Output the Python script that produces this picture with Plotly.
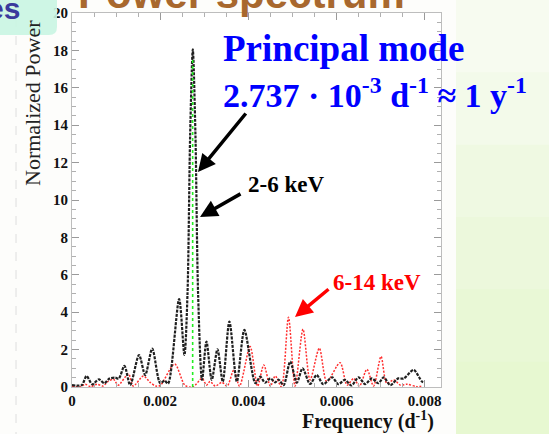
import numpy as np
import plotly.graph_objects as go

# Frequencies in units of 1e-3 d^-1, normalized power values
freq_soft_milli = [0.00, 0.22, 0.33, 0.46, 0.61, 0.73, 0.85, 0.98, 1.06, 1.19, 1.32, 1.52,
                   1.66, 1.82, 2.00, 2.10, 2.18, 2.43, 2.55, 2.62, 2.68, 2.74, 2.80, 2.86,
                   2.95, 3.05, 3.17, 3.30, 3.42, 3.57, 3.74, 3.91, 4.16, 4.27, 4.38, 4.50,
                   4.61, 4.68, 4.80, 4.95, 5.10, 5.23, 5.40, 5.55, 5.70, 5.90, 6.04, 6.19,
                   6.34, 6.50, 6.65, 6.80, 6.95, 7.07, 7.22, 7.40, 7.52, 7.75, 7.94, 8.00]
power_soft = [0.10, 0.10, 0.59, 0.14, 0.41, 0.20, 0.45, 0.50, 0.45, 1.13, 0.10, 1.71,
              0.64, 2.05, 0.20, 0.34, 0.18, 4.70, 1.71, 5.00, 13.5, 18.05, 13.5, 5.00,
              0.38, 2.43, 0.38, 2.02, 0.29, 3.50, 0.29, 3.05, 0.20, 0.55, 0.23, 0.46,
              0.25, 0.40, 0.10, 1.36, 0.23, 1.00, 0.16, 0.64, 0.15, 0.52, 0.15, 0.38,
              0.08, 0.52, 0.15, 0.46, 0.20, 0.52, 0.10, 0.46, 0.45, 0.91, 0.29, 0.25]

freq_hard_milli = [0.00, 0.20, 0.30, 0.42, 0.57, 0.70, 0.82, 0.94, 1.05, 1.28, 1.39, 1.62,
                   1.77, 1.90, 2.00, 2.33, 2.56, 2.74, 2.95, 3.05, 3.13, 3.25, 3.40, 3.52,
                   3.67, 3.80, 4.04, 4.21, 4.35, 4.50, 4.61, 4.75, 4.91, 5.06, 5.24, 5.40,
                   5.61, 5.78, 6.08, 6.24, 6.39, 6.52, 6.69, 6.84, 7.01, 7.14, 7.30, 7.45,
                   7.60, 7.82, 7.96]
power_hard = [0.02, 0.02, 0.15, 0.02, 0.15, 0.05, 0.30, 0.41, 0.10, 0.70, 0.05, 0.59,
              0.25, 0.05, 0.08, 1.23, 0.10, 0.00, 0.46, 0.10, 0.30, 0.05, 0.25, 0.05,
              0.90, 0.05, 2.16, 0.05, 1.18, 0.05, 0.59, 0.02, 3.73, 0.05, 3.09, 0.38,
              2.07, 0.29, 1.30, 0.10, 0.46, 0.05, 0.95, 0.05, 1.63, 0.20, 0.38, 0.10,
              0.15, 0.02, 0.05]

principal_freq = 2.737e-3
principal_line_top = 17.6

x_tickvals = [0, 0.002, 0.004, 0.006, 0.008]
x_ticktext = ["0", "0.002", "0.004", "0.006", "0.008"]
y_tickvals = list(range(0, 21, 2))

freq_soft = np.array(freq_soft_milli) * 1e-3
freq_hard = np.array(freq_hard_milli) * 1e-3

W, H = 549, 434
PL, PR, PT, PB = 72, 441, 13, 387  # plot area edges in pixels


def px(xp, yp):
    """Convert page pixel position to paper coordinates."""
    return (xp - PL) / (PR - PL), (PB - yp) / (PB - PT)


SERIF = "Liberation Serif"
SANS = "Liberation Sans"

fig = go.Figure()

fig.add_trace(go.Scatter(
    x=freq_hard, y=power_hard, mode="lines",
    line=dict(color="#ff3030", width=1.5, dash="2px,1.5px", shape="spline", smoothing=0.8),
    showlegend=False, hoverinfo="skip"))
fig.add_trace(go.Scatter(
    x=freq_soft, y=power_soft, mode="lines",
    line=dict(color="#202020", width=2.2, dash="3px,1.2px", shape="spline", smoothing=0.8),
    showlegend=False, hoverinfo="skip"))
fig.add_trace(go.Scatter(
    x=[principal_freq, principal_freq], y=[0, principal_line_top], mode="lines",
    line=dict(color="#22ee22", width=1.6, dash="dot"),
    showlegend=False, hoverinfo="skip"))

shapes = []
# light green slide backdrop at the right, graded top to bottom
bands = ["#f7fbf0", "#f3faea", "#eff9e2", "#ecf8dc", "#e9f8d6", "#e7f8d1"]
for i, c in enumerate(bands):
    y0 = i * H / len(bands)
    y1 = (i + 1) * H / len(bands) + 1
    a = px(456, y0)
    b = px(W + 2, y1)
    shapes.append(dict(type="rect", xref="paper", yref="paper", x0=a[0], y0=a[1],
                       x1=b[0], y1=b[1], fillcolor=c, line=dict(width=0), layer="below"))

# dashed guide at the left edge
g0 = px(16, 0)
g1 = px(16, H)
shapes.append(dict(type="line", xref="paper", yref="paper", x0=g0[0], y0=g0[1], x1=g1[0],
                   y1=g1[1], line=dict(color="#dedede", width=1, dash="dash"), layer="below"))

# mint tab with rounded lower-right corner
r = 8
pts = [px(-2, -2), px(57, -2), px(57, 35 - r), px(57, 35), px(57 - r, 35), px(-2, 35)]
path = (f"M {pts[0][0]},{pts[0][1]} L {pts[1][0]},{pts[1][1]} L {pts[2][0]},{pts[2][1]} "
        f"Q {pts[3][0]},{pts[3][1]} {pts[4][0]},{pts[4][1]} L {pts[5][0]},{pts[5][1]} Z")
shapes.append(dict(type="path", xref="paper", yref="paper", path=path,
                   fillcolor="#c9f5e2", opacity=0.9, line=dict(width=0), layer="above"))

annotations = []


def label(text, xp, yp, size, color, family=SERIF, xanchor="left", angle=0):
    x, y = px(xp, yp)
    annotations.append(dict(text=text, x=x, y=y, xref="paper", yref="paper",
                            xanchor=xanchor, yanchor="middle", showarrow=False,
                            textangle=angle, font=dict(family=family, size=size, color=color)))


def arrow(head, tail, color):
    x, y = px(*head)
    annotations.append(dict(text="", x=x, y=y, xref="paper", yref="paper",
                            ax=tail[0] - head[0], ay=tail[1] - head[1],
                            showarrow=True, arrowhead=2, arrowsize=1.0,
                            arrowwidth=3.5, arrowcolor=color))


label("<b>Power spectrum</b>", 76, -7, 42, "#a8682e", family=SANS)
label("<b>es</b>", 22, 9, 30, "#3a3a9c", family=SANS, xanchor="right")
label("<b>Principal mode</b>", 221, 48, 37, "#0000ff")
label("<b>2.737 · 10<sup>-3</sup> d<sup>-1</sup> ≈ 1 y<sup>-1</sup></b>", 221, 93, 34, "#0000ff")
label("<b>2-6 keV</b>", 246, 184, 23, "#000000")
label("<b>6-14 keV</b>", 331, 282, 23, "#ff0000")
label("Normalized Power", 33, 103, 22, "#222222", xanchor="center", angle=-90)
label("<b>Frequency (d<sup>-1</sup>)</b>", 368, 421, 20, "#111111", xanchor="center")

arrow((198, 172), (247, 112), "#000000")
arrow((200, 217), (242, 193), "#000000")
arrow((295, 317), (330, 288), "#ff0000")

axis_common = dict(showline=True, linecolor="#bdbdbd", linewidth=1, mirror="ticks",
                   ticks="inside", tickcolor="#9a9a9a", ticklen=7, tickwidth=1,
                   showgrid=False, zeroline=False, automargin=False,
                   tickfont=dict(family=SERIF, size=15, color="#111111"))

fig.update_layout(
    width=W, height=H,
    margin=dict(l=PL, r=W - PR, t=PT, b=H - PB, pad=0),
    paper_bgcolor="#fdfdfb", plot_bgcolor="#ffffff",
    xaxis=dict(range=[0, 0.00837], tickvals=x_tickvals,
               ticktext=[f"<b>{t}</b>" for t in x_ticktext],
               minor=dict(dtick=0.0005, ticks="inside", ticklen=4, tickcolor="#b0b0b0"),
               **axis_common),
    yaxis=dict(range=[0, 20], tickvals=y_tickvals,
               ticktext=[f"<b>{v}</b>" for v in y_tickvals],
               minor=dict(dtick=0.5, ticks="inside", ticklen=4, tickcolor="#b0b0b0"),
               **axis_common),
    shapes=shapes, annotations=annotations,
)

fig.write_html("out.html")
